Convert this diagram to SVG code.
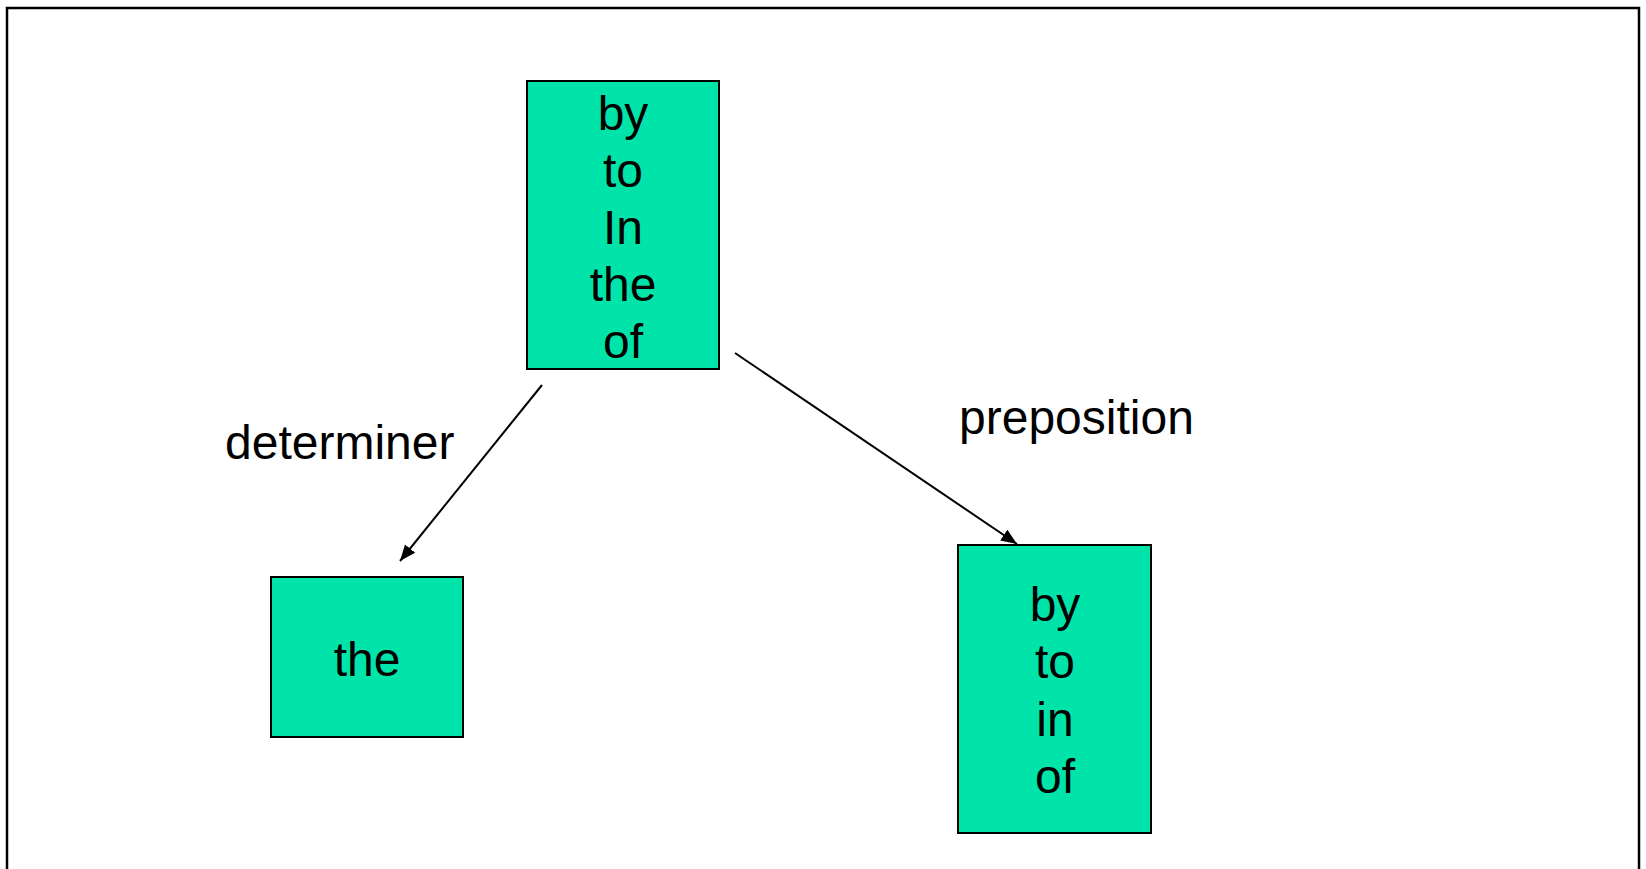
<svg xmlns="http://www.w3.org/2000/svg" width="1646" height="869" viewBox="0 0 1646 869">
  <style>
    .box { fill: #00E3A9; stroke: #000; stroke-width: 2; }
    .label { font-family: "Liberation Sans", Arial, sans-serif; font-size: 48px; fill: #000; }
    .mid { text-anchor: middle; }
    .edge { stroke: #000; stroke-width: 2; fill: none; marker-end: url(#arrow); }
  </style>
  <defs>
    <marker id="arrow" markerUnits="userSpaceOnUse" markerWidth="17" markerHeight="14" refX="16" refY="7" orient="auto">
      <path d="M0,0.5 L16,7 L0,13.5 Z" fill="#000"/>
    </marker>
  </defs>

  <rect width="1646" height="869" fill="#fff"/>
  <!-- outer frame (bottom edge runs off the canvas) -->
  <rect x="7" y="8" width="1632" height="880" fill="none" stroke="#000" stroke-width="2.5"/>

  <g id="node-top">
    <rect class="box" x="527" y="81" width="192" height="288"/>
    <text class="label mid" x="623" y="130">by</text>
    <text class="label mid" x="623" y="187">to</text>
    <text class="label mid" x="623" y="244">In</text>
    <text class="label mid" x="623" y="301">the</text>
    <text class="label mid" x="623" y="358">of</text>
  </g>

  <g id="node-determiner">
    <rect class="box" x="271" y="577" width="192" height="160"/>
    <text class="label mid" x="367" y="676">the</text>
  </g>

  <g id="node-preposition">
    <rect class="box" x="958" y="545" width="193" height="288"/>
    <text class="label mid" x="1055" y="621">by</text>
    <text class="label mid" x="1055" y="678">to</text>
    <text class="label mid" x="1055" y="736">in</text>
    <text class="label mid" x="1055" y="793">of</text>
  </g>

  <g id="connectors">
    <line class="edge" x1="542" y1="385" x2="400" y2="561"/>
    <line class="edge" x1="735" y1="353" x2="1017" y2="544"/>
    <text class="label" x="225" y="459">determiner</text>
    <text class="label" x="959" y="434">preposition</text>
  </g>
</svg>
